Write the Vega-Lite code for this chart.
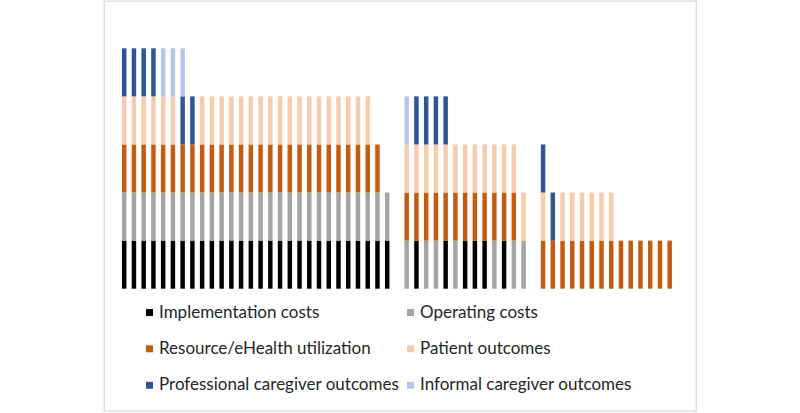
{
  "$schema": "https://vega.github.io/schema/vega-lite/v6.json",
  "width": 592,
  "height": 410,
  "autosize": {"type": "none"},
  "padding": {"left": 104, "top": 1, "right": 104, "bottom": 2},
  "background": "white",
  "config": {
    "view": {"stroke": "#d9d9d9", "strokeWidth": 1.3},
    "font": "Lato"
  },
  "datasets": {
    "cats": [
      {"code": "I", "name": "Implementation costs", "rank": 1},
      {"code": "O", "name": "Operating costs", "rank": 2},
      {"code": "R", "name": "Resource/eHealth utilization", "rank": 3},
      {"code": "P", "name": "Patient outcomes", "rank": 4},
      {"code": "PC", "name": "Professional caregiver outcomes", "rank": 5},
      {"code": "IC", "name": "Informal caregiver outcomes", "rank": 6}
    ]
  },
  "data": {"values": [
    {"b":1,"c":"I"},{"b":1,"c":"O"},{"b":1,"c":"R"},{"b":1,"c":"P"},{"b":1,"c":"PC"},
    {"b":2,"c":"I"},{"b":2,"c":"O"},{"b":2,"c":"R"},{"b":2,"c":"P"},{"b":2,"c":"PC"},
    {"b":3,"c":"I"},{"b":3,"c":"O"},{"b":3,"c":"R"},{"b":3,"c":"P"},{"b":3,"c":"PC"},
    {"b":4,"c":"I"},{"b":4,"c":"O"},{"b":4,"c":"R"},{"b":4,"c":"P"},{"b":4,"c":"PC"},
    {"b":5,"c":"I"},{"b":5,"c":"O"},{"b":5,"c":"R"},{"b":5,"c":"P"},{"b":5,"c":"IC"},
    {"b":6,"c":"I"},{"b":6,"c":"O"},{"b":6,"c":"R"},{"b":6,"c":"P"},{"b":6,"c":"IC"},
    {"b":7,"c":"I"},{"b":7,"c":"O"},{"b":7,"c":"R"},{"b":7,"c":"PC"},{"b":7,"c":"IC"},
    {"b":8,"c":"I"},{"b":8,"c":"O"},{"b":8,"c":"R"},{"b":8,"c":"PC"},
    {"b":9,"c":"I"},{"b":9,"c":"O"},{"b":9,"c":"R"},{"b":9,"c":"P"},
    {"b":10,"c":"I"},{"b":10,"c":"O"},{"b":10,"c":"R"},{"b":10,"c":"P"},
    {"b":11,"c":"I"},{"b":11,"c":"O"},{"b":11,"c":"R"},{"b":11,"c":"P"},
    {"b":12,"c":"I"},{"b":12,"c":"O"},{"b":12,"c":"R"},{"b":12,"c":"P"},
    {"b":13,"c":"I"},{"b":13,"c":"O"},{"b":13,"c":"R"},{"b":13,"c":"P"},
    {"b":14,"c":"I"},{"b":14,"c":"O"},{"b":14,"c":"R"},{"b":14,"c":"P"},
    {"b":15,"c":"I"},{"b":15,"c":"O"},{"b":15,"c":"R"},{"b":15,"c":"P"},
    {"b":16,"c":"I"},{"b":16,"c":"O"},{"b":16,"c":"R"},{"b":16,"c":"P"},
    {"b":17,"c":"I"},{"b":17,"c":"O"},{"b":17,"c":"R"},{"b":17,"c":"P"},
    {"b":18,"c":"I"},{"b":18,"c":"O"},{"b":18,"c":"R"},{"b":18,"c":"P"},
    {"b":19,"c":"I"},{"b":19,"c":"O"},{"b":19,"c":"R"},{"b":19,"c":"P"},
    {"b":20,"c":"I"},{"b":20,"c":"O"},{"b":20,"c":"R"},{"b":20,"c":"P"},
    {"b":21,"c":"I"},{"b":21,"c":"O"},{"b":21,"c":"R"},{"b":21,"c":"P"},
    {"b":22,"c":"I"},{"b":22,"c":"O"},{"b":22,"c":"R"},{"b":22,"c":"P"},
    {"b":23,"c":"I"},{"b":23,"c":"O"},{"b":23,"c":"R"},{"b":23,"c":"P"},
    {"b":24,"c":"I"},{"b":24,"c":"O"},{"b":24,"c":"R"},{"b":24,"c":"P"},
    {"b":25,"c":"I"},{"b":25,"c":"O"},{"b":25,"c":"R"},{"b":25,"c":"P"},
    {"b":26,"c":"I"},{"b":26,"c":"O"},{"b":26,"c":"R"},{"b":26,"c":"P"},
    {"b":27,"c":"I"},{"b":27,"c":"O"},{"b":27,"c":"R"},
    {"b":28,"c":"I"},{"b":28,"c":"O"},
    {"b":30,"c":"O"},{"b":30,"c":"R"},{"b":30,"c":"P"},{"b":30,"c":"IC"},
    {"b":31,"c":"I"},{"b":31,"c":"R"},{"b":31,"c":"P"},{"b":31,"c":"PC"},
    {"b":32,"c":"O"},{"b":32,"c":"R"},{"b":32,"c":"P"},{"b":32,"c":"PC"},
    {"b":33,"c":"O"},{"b":33,"c":"R"},{"b":33,"c":"P"},{"b":33,"c":"PC"},
    {"b":34,"c":"I"},{"b":34,"c":"R"},{"b":34,"c":"P"},{"b":34,"c":"PC"},
    {"b":35,"c":"O"},{"b":35,"c":"R"},{"b":35,"c":"P"},
    {"b":36,"c":"I"},{"b":36,"c":"R"},{"b":36,"c":"P"},
    {"b":37,"c":"I"},{"b":37,"c":"R"},{"b":37,"c":"P"},
    {"b":38,"c":"I"},{"b":38,"c":"R"},{"b":38,"c":"P"},
    {"b":39,"c":"O"},{"b":39,"c":"R"},{"b":39,"c":"P"},
    {"b":40,"c":"I"},{"b":40,"c":"R"},{"b":40,"c":"P"},
    {"b":41,"c":"O"},{"b":41,"c":"R"},{"b":41,"c":"P"},
    {"b":42,"c":"O"},{"b":42,"c":"P"},
    {"b":44,"c":"R"},{"b":44,"c":"P"},{"b":44,"c":"PC"},
    {"b":45,"c":"R"},{"b":45,"c":"PC"},
    {"b":46,"c":"R"},{"b":46,"c":"P"},
    {"b":47,"c":"R"},{"b":47,"c":"P"},
    {"b":48,"c":"R"},{"b":48,"c":"P"},
    {"b":49,"c":"R"},{"b":49,"c":"P"},
    {"b":50,"c":"R"},{"b":50,"c":"P"},
    {"b":51,"c":"R"},{"b":51,"c":"P"},
    {"b":52,"c":"R"},
    {"b":53,"c":"R"},
    {"b":54,"c":"R"},
    {"b":55,"c":"R"},
    {"b":56,"c":"R"},
    {"b":57,"c":"R"}
  ]},
  "transform": [
    {"lookup": "c", "from": {"data": {"name": "cats"}, "key": "code", "fields": ["name", "rank"]}}
  ],
  "mark": {"type": "bar", "strokeWidth": 0},
  "encoding": {
    "x": {
      "field": "b", "type": "ordinal", "axis": null,
      "scale": {
        "domain": [0,1,2,3,4,5,6,7,8,9,10,11,12,13,14,15,16,17,18,19,20,21,22,23,24,25,26,27,28,29,30,31,32,33,34,35,36,37,38,39,40,41,42,43,44,45,46,47,48,49,50,51,52,53,54,55,56,57,58,59],
        "paddingInner": 0.54, "paddingOuter": 0.6575, "align": 0.642, "round": false
      }
    },
    "y": {
      "aggregate": "count", "type": "quantitative", "axis": null, "stack": "zero",
      "scale": {"domain": [-2.544, 5.984], "nice": false, "zero": false}
    },
    "order": {"field": "rank", "type": "quantitative", "sort": "ascending"},
    "color": {
      "field": "name", "type": "nominal",
      "scale": {
        "domain": ["Implementation costs", "Operating costs", "Resource/eHealth utilization", "Patient outcomes", "Professional caregiver outcomes", "Informal caregiver outcomes"],
        "range": ["#000000", "#a5a5a5", "#c55a11", "#f8cbad", "#2f5597", "#b4c7e7"]
      },
      "legend": {
        "title": null, "orient": "none", "legendX": 37, "legendY": 302.8,
        "direction": "horizontal",
        "columns": 2, "columnPadding": 2, "rowPadding": 18.5, "padding": 0,
        "symbolType": "square", "symbolSize": 49, "symbolStrokeWidth": 0,
        "labelFont": "Lato", "labelFontSize": 17, "labelColor": "#262626",
        "labelOffset": 1, "labelLimit": 400
      }
    }
  }
}
